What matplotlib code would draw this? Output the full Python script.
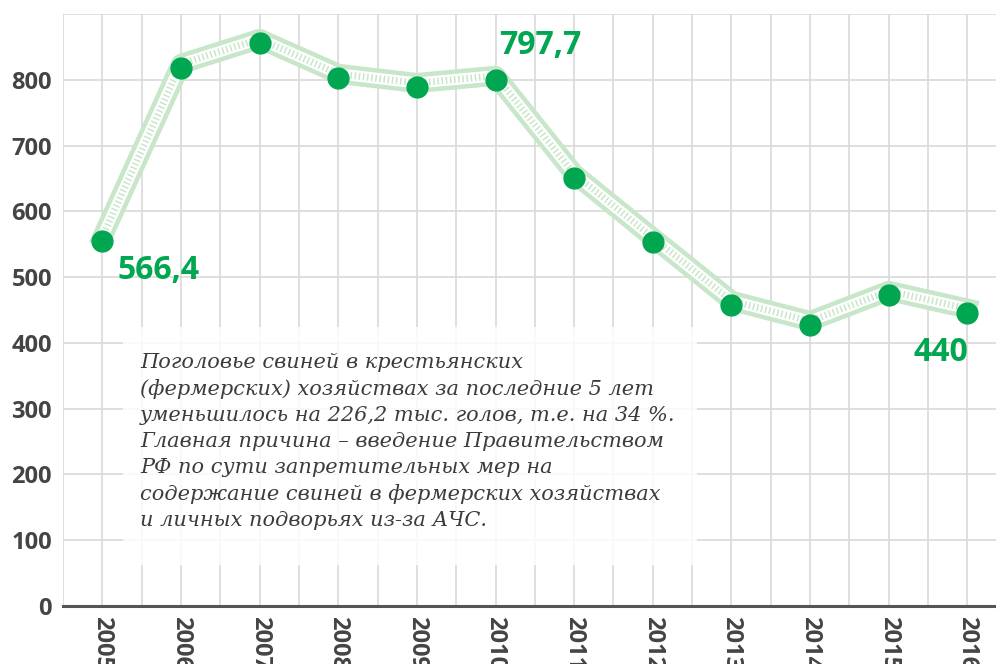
import matplotlib.transforms as mtransforms
import numpy as np
from matplotlib import pyplot as plt

# Data
years = [2005, 2006, 2007, 2008, 2009, 2010, 2011, 2012, 2013, 2014, 2015, 2016]
heads = [555, 818, 856, 803, 789, 800, 651, 554, 458, 427, 473, 446]
y_ticks = [0, 100, 200, 300, 400, 500, 600, 700, 800]
callouts = [(2005, "566,4"), (2010, "797,7"), (2016, "440")]
note = ("Поголовье свиней в крестьянских\n"
        "(фермерских) хозяйствах за последние 5 лет\n"
        "уменьшилось на 226,2 тыс. голов, т.е. на 34 %.\n"
        "Главная причина – введение Правительством\n"
        "РФ по сути запретительных мер на\n"
        "содержание свиней в фермерских хозяйствах\n"
        "и личных подворьях из-за АЧС.")

GREEN = "#00a650"
BAND = "#c8e6c9"
GREY = "#444444"

fig = plt.figure(figsize=(9.96, 6.64), dpi=100)
ax = fig.add_axes([63 / 996, 58 / 664, 933 / 996, 592 / 664])

ax.set_xlim(2004.5, 2016.364)
ax.set_ylim(0, 900)

# grid
for gx in np.arange(2004.5, 2017, 0.5):
    ax.axvline(gx, color="#d9d9d9", lw=1.2, zorder=0)
for gy in range(0, 1000, 100):
    ax.axhline(gy, color="#d9d9d9", lw=1.2, zorder=0)

for s in ["left", "right", "top"]:
    ax.spines[s].set_visible(False)
ax.spines["bottom"].set_color("#555555")
ax.spines["bottom"].set_linewidth(2.2)
ax.spines["bottom"].set_zorder(3)

ax.set_yticks(y_ticks)
ax.set_yticklabels([str(v) for v in y_ticks], fontsize=17, fontweight="bold",
                   color=GREY, family="Open Sans")
ax.set_xticks(years)
ax.set_xticklabels([str(y) for y in years], fontsize=17, fontweight="bold",
                   color=GREY, family="Open Sans", rotation=-90, va="top")
ax.tick_params(length=0)
ax.tick_params(axis="y", pad=8)
ax.tick_params(axis="x", pad=7)

# band line, slightly shifted upward
shift = mtransforms.offset_copy(ax.transData, fig=fig, x=0, y=4, units="dots")
ax.plot(years, heads, color=BAND, lw=14.5, transform=shift,
        solid_joinstyle="round", zorder=2)
ax.plot(years, heads, color="white", lw=8, transform=shift,
        solid_joinstyle="round", zorder=2)
hatch, = ax.plot(years, heads, color=BAND, lw=5, transform=shift, zorder=2)
hatch.set_dashes((0.22, 0.38))
hatch.set_dash_capstyle("butt")

ax.plot(years, heads, "o", color=GREEN, ms=15, zorder=4)

# callout values
offsets = {2005: (15, -30), 2010: (4, 34), 2016: (-54, -40)}
for yr, txt in callouts:
    i = years.index(yr)
    dx, dy = offsets[yr]
    ax.annotate(txt, (yr, heads[i]), xytext=(dx, dy), textcoords="offset pixels",
                fontsize=23, fontweight="bold", color=GREEN, family="Open Sans",
                ha="left", va="center", zorder=5)

# note box
box = plt.Rectangle((123 / 996, (664 - 565) / 664), (697 - 123) / 996,
                    (565 - 327) / 664, transform=fig.transFigure,
                    facecolor="white", alpha=0.82, edgecolor="none", zorder=3)
fig.patches.append(box)
fig.text(140 / 996, 1 - 353 / 664, note, fontsize=15, style="italic",
         family="DejaVu Serif", color="#3c3c3c",
         va="top", ha="left", linespacing=1.46, zorder=6)

fig.savefig("out.png", dpi=100)
